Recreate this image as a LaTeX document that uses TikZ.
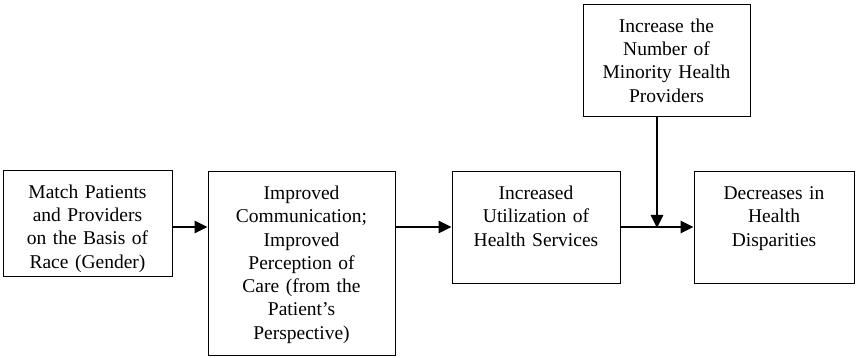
\documentclass[tikz,border=0pt]{standalone}
\usepackage{fontspec}
\setmainfont{Liberation Serif}
\usetikzlibrary{arrows.meta}

\begin{document}
\begin{tikzpicture}[
		x=1pt, y=-1pt,
		every node/.style={rectangle, draw, line width=0.8pt, align=center, inner xsep=0pt, inner ysep=0pt,
			text height=28pt, font=\fontsize{19.5}{23.3}\selectfont, anchor=north},
		flow/.style={line width=2.8pt, -{Triangle[length=13pt, width=12pt]}}
	]
  \useasboundingbox (0,0) rectangle (859,358);
  \node (match) [text width=169pt, text depth=78pt] at (87.5, 170) {Match Patients\\and Providers\\on the Basis of\\Race (Gender)};
  \node (comm) [text width=187pt, text depth=156pt] at (301.5, 171) {Improved\\Communication;\\Improved\\Perception of\\Care (from the\\Patient’s\\Perspective)};
  \node (util) [text width=168pt, text depth=84pt] at (536, 171) {Increased\\Utilization of\\Health Services};
  \node (decr) [text width=160pt, text depth=84pt] at (774, 171) {Decreases in\\Health\\Disparities};
  \node (minor) [text width=167pt, text depth=84pt] at (666.5, 4) {Increase the\\Number of\\Minority Health\\Providers};
  \coordinate (join) at (657, 227);
  \draw[flow] (match.east |- join) -- (comm.west |- join);
  \draw[flow] (comm.east |- join) -- (util.west |- join);
  \draw[flow] (util.east |- join) -- (decr.west |- join);
  \draw[flow] (minor.south -| join) -- ([yshift=-1pt]join);
\end{tikzpicture}
\end{document}
